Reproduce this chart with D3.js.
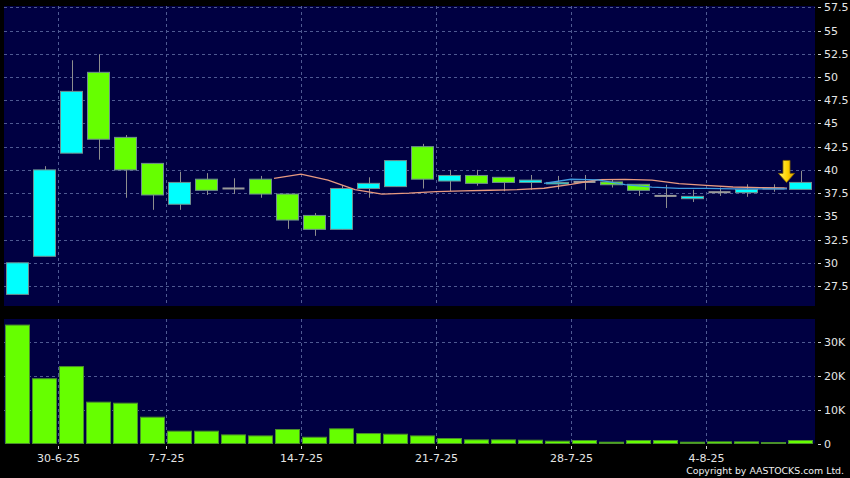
<!DOCTYPE html>
<html>
<head>
<meta charset="utf-8">
<script src="https://cdn.jsdelivr.net/npm/d3@7"></script>
<style>
  html, body { margin: 0; padding: 0; background: #000; }
  svg { display: block; }
  text { font-family: "DejaVu Sans", sans-serif; }
</style>
</head>
<body>
<div id="chart"></div>
<script>
// ---------- data ----------
const dates = ["26-6-25","27-6-25","30-6-25","2-7-25","3-7-25","4-7-25","7-7-25","8-7-25","9-7-25","10-7-25",
               "11-7-25","14-7-25","15-7-25","16-7-25","17-7-25","18-7-25","21-7-25","22-7-25","23-7-25","24-7-25",
               "25-7-25","28-7-25","29-7-25","30-7-25","31-7-25","1-8-25","4-8-25","5-8-25","6-8-25","7-8-25"];
const openV  = [26.6, 30.7, 41.8, 50.5, 43.5, 40.7, 36.3, 39.0, 38.0, 39.0,
                37.4, 35.1, 33.6, 38.0, 38.2, 42.5, 38.8, 39.4, 39.2, 38.65,
                38.5, 38.7, 38.7, 38.45, 37.2, 36.9, 37.6, 37.55, 38.0, 37.9];
const highV  = [30.0, 40.4, 51.8, 52.45, 43.75, 40.7, 39.8, 39.65, 39.1, 39.35,
                37.4, 35.35, 38.35, 39.2, 41.0, 42.8, 40.0, 40.0, 39.2, 39.45,
                39.35, 39.45, 39.0, 38.45, 38.4, 37.85, 38.1, 38.45, 38.45, 39.9];
const lowV   = [26.6, 30.7, 41.8, 41.1, 37.0, 35.7, 35.7, 37.3, 37.4, 37.0,
                33.65, 32.9, 33.6, 37.0, 38.2, 38.0, 37.7, 38.3, 37.7, 37.85,
                37.9, 37.85, 38.1, 37.2, 35.9, 36.55, 37.2, 37.1, 37.65, 37.9];
const closeV = [30.0, 40.0, 48.45, 43.3, 40.0, 37.3, 38.65, 37.8, 38.0, 37.4,
                34.6, 33.6, 38.0, 38.55, 41.0, 39.0, 39.4, 38.55, 38.65, 38.9,
                38.65, 38.7, 38.4, 37.8, 37.2, 37.15, 37.6, 37.9, 38.0, 38.65];
const volumeV = [35100, 19200, 22800, 12250, 11950, 7800, 3650, 3650, 2550, 2250,
                 4150, 1850, 4350, 2950, 2750, 2250, 1480, 1080, 1080, 980,
                 690, 890, 390, 890, 890, 390, 490, 490, 300, 890];
// 10-day and 20-day moving averages (as drawn)
const ma10 = [null, null, null, null, null, null, null, null, null, 39.09,
              39.55, 38.91, 37.865, 37.39, 37.49, 37.66, 37.735, 37.81, 37.875, 38.025,
              38.43, 38.94, 38.98, 38.905, 38.525, 38.34, 38.16, 38.095, 38.03, null];
const ma20 = [null, null, null, null, null, null, null, null, null, null,
              null, null, null, null, null, null, null, null, null, 38.5575,
              38.99, 38.925, 38.4225, 38.1475, 38.0075, 38.0, 37.9475, 37.9525, 37.9525, null];
const priceTicks = [27.5, 30, 32.5, 35, 37.5, 40, 42.5, 45, 47.5, 50, 52.5, 55, 57.5];
const volumeTicks = [0, 10000, 20000, 30000];
const dateTickLabels = ["30-6-25", "7-7-25", "14-7-25", "21-7-25", "28-7-25", "4-8-25"];
const markerIndex = 29;

// ---------- layout ----------
const W = 850, H = 478;
const left = 4, right = 814;
const pTop = 6, pBottom = 306;
const vTop = 319, vBottom = 443.5;

const svg = d3.select("#chart").append("svg").attr("width", W).attr("height", H);
svg.append("rect").attr("width", W).attr("height", H).attr("fill", "#000");

const x = d3.scaleBand().domain(dates).range([left, right]).padding(0);
const step = x.step();
const y = d3.scaleLinear().domain([25.35, 57.64]).range([pBottom, pTop]);
const yv = d3.scaleLinear().domain([0, 36900]).range([vBottom, vTop]);

const navy = "#000042";
const gridColor = "#4f5a92";

// panels
svg.append("rect").attr("x", left).attr("y", pTop).attr("width", right - left + 1).attr("height", pBottom - pTop).attr("fill", navy);
svg.append("rect").attr("x", left).attr("y", vTop).attr("width", right - left + 1).attr("height", vBottom - vTop).attr("fill", navy);

// grids
const gp = svg.append("g");
gp.selectAll("line.h").data(priceTicks).join("line")
  .attr("x1", left).attr("x2", right + 1)
  .attr("y1", d => Math.round(y(d)) + 0.5).attr("y2", d => Math.round(y(d)) + 0.5)
  .attr("stroke", gridColor).attr("stroke-dasharray", "3,3").attr("stroke-width", 1);
gp.selectAll("line.hv").data(volumeTicks.filter(d => d > 0)).join("line")
  .attr("x1", left).attr("x2", right + 1)
  .attr("y1", d => Math.round(yv(d)) + 0.5).attr("y2", d => Math.round(yv(d)) + 0.5)
  .attr("stroke", gridColor).attr("stroke-dasharray", "3,3").attr("stroke-width", 1);
const vgx = d => Math.round(x(d)) + 0.5;
gp.selectAll("line.vp").data(dateTickLabels).join("line")
  .attr("x1", vgx).attr("x2", vgx).attr("y1", pTop).attr("y2", pBottom)
  .attr("stroke", gridColor).attr("stroke-dasharray", "3,3");
gp.selectAll("line.vv").data(dateTickLabels).join("line")
  .attr("x1", vgx).attr("x2", vgx).attr("y1", vTop).attr("y2", vBottom)
  .attr("stroke", gridColor).attr("stroke-dasharray", "3,3");

// candles
const idx = d3.range(dates.length);
const cg = svg.append("g");
const cx = i => Math.round(x(dates[i]) + step / 2) + 0.5;
cg.selectAll("line.wick").data(idx).join("line")
  .attr("x1", cx).attr("x2", cx)
  .attr("y1", i => y(highV[i])).attr("y2", i => y(lowV[i]))
  .attr("stroke", "#8e8e8e").attr("stroke-width", 1);
cg.selectAll("rect.body").data(idx).join("rect")
  .attr("x", i => Math.round(x(dates[i])) + 2.5)
  .attr("width", 22)
  .attr("y", i => openV[i] === closeV[i] ? y(openV[i]) - 1 : y(Math.max(openV[i], closeV[i])))
  .attr("height", i => openV[i] === closeV[i] ? 2 : Math.max(1.5, Math.abs(y(openV[i]) - y(closeV[i]))))
  .attr("fill", i => openV[i] === closeV[i] ? "#9a9a9a" : (closeV[i] > openV[i] ? "#00ffff" : "#66ff00"))
  .attr("stroke", i => openV[i] === closeV[i] ? "none" : "#6f8f8f")
  .attr("stroke-width", 1);

// moving averages (plotted at the right edge of each bar)
const maLine = d3.line()
  .defined(d => d.v != null)
  .x(d => x(dates[d.i]) + step)
  .y(d => y(d.v));
svg.append("path").datum(ma10.map((v, i) => ({i, v})))
  .attr("d", maLine).attr("fill", "none").attr("stroke", "#e89a80").attr("stroke-width", 1.3);
svg.append("path").datum(ma20.map((v, i) => ({i, v})))
  .attr("d", maLine).attr("fill", "none").attr("stroke", "#3f9be0").attr("stroke-width", 1.3);

// volume bars
svg.append("g").selectAll("rect").data(idx).join("rect")
  .attr("x", i => Math.round(x(dates[i])) + 1.5)
  .attr("width", 24)
  .attr("y", i => yv(volumeV[i]))
  .attr("height", i => yv(0) - yv(volumeV[i]))
  .attr("fill", "#66ff00").attr("stroke", "#4a8f2a").attr("stroke-width", 1);

// marker arrow
const defs = svg.append("defs");
const grad = defs.append("linearGradient").attr("id", "arrowGrad").attr("x1", 0).attr("x2", 1).attr("y1", 0).attr("y2", 0);
grad.append("stop").attr("offset", "0%").attr("stop-color", "#fff36a");
grad.append("stop").attr("offset", "55%").attr("stop-color", "#ffd400");
grad.append("stop").attr("offset", "100%").attr("stop-color", "#d89a00");
const ax = x(dates[markerIndex]) - 0.5, ay = y(closeV[markerIndex]);
svg.append("path")
  .attr("d", `M${ax},${ay} L${ax - 8},${ay - 9} L${ax - 3.5},${ay - 9} L${ax - 3.5},${ay - 22} L${ax + 3.5},${ay - 22} L${ax + 3.5},${ay - 9} L${ax + 8},${ay - 9} Z`)
  .attr("fill", "url(#arrowGrad)").attr("stroke", "#8a6a00").attr("stroke-width", 0.8);

// right axes
const axG = svg.append("g").attr("fill", "#e6e6e6").attr("font-size", 11);
const priceFmt = d => (d % 1 === 0 ? String(d) : d.toFixed(1));
priceTicks.forEach(t => {
  const ty = Math.round(y(t)) + 0.5;
  axG.append("line").attr("x1", 818).attr("x2", 821).attr("y1", ty).attr("y2", ty).attr("stroke", "#d0d0d0");
  axG.append("text").attr("x", 824).attr("y", ty).attr("dy", "0.36em").text(priceFmt(t));
});
volumeTicks.forEach(t => {
  const ty = Math.round(yv(t)) + 0.5;
  axG.append("line").attr("x1", 818).attr("x2", 821).attr("y1", ty).attr("y2", ty).attr("stroke", "#d0d0d0");
  axG.append("text").attr("x", 824).attr("y", ty).attr("dy", "0.36em").text(t === 0 ? "0" : (t / 1000) + "K");
});

// date axis
dateTickLabels.forEach(d => {
  const tx = Math.round(x(d)) + 0.5;
  axG.append("line").attr("x1", tx).attr("x2", tx).attr("y1", 446).attr("y2", 449).attr("stroke", "#d0d0d0");
  axG.append("text").attr("x", tx).attr("y", 462).attr("text-anchor", "middle").text(d);
});

// copyright
svg.append("text").attr("x", 844).attr("y", 473.5).attr("text-anchor", "end")
  .attr("font-size", 9.4).attr("fill", "#f0f0f0")
  .text("Copyright by AASTOCKS.com Ltd.");
</script>
</body>
</html>
